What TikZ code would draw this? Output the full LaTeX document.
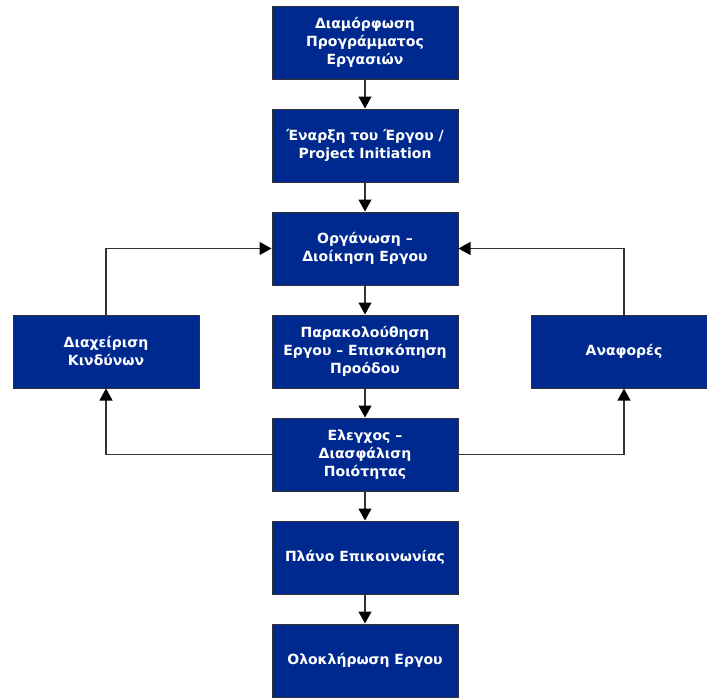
\documentclass[tikz,border=0pt]{standalone}
\usepackage{fontspec}
\setmainfont{DejaVu Sans}
\usetikzlibrary{arrows.meta}
\definecolor{boxblue}{RGB}{0,41,143}
\begin{document}
\begin{tikzpicture}[x=1pt,y=-1pt,
  box/.style={draw=black!80, line width=1pt, fill=boxblue, text=white,
    font=\fontsize{14}{18}\selectfont\bfseries, align=center,
    minimum width=186pt, minimum height=73pt, inner sep=0pt},
  conn/.style={draw=black!80, line width=1.2pt,
    -{Triangle[length=12pt,width=13pt,fill=black,color=black]}}]
\useasboundingbox (0,0) rectangle (707,697);
\clip (0,0) rectangle (707,697);
\node[box] (b1) at (365,42.5) {Διαμόρφωση\\Προγράμματος\\Εργασιών};
\node[box] (b2) at (365,145.5) {Έναρξη του Έργου /\\Project Initiation};
\node[box] (b3) at (365,248.5) {Οργάνωση –\\Διοίκηση Εργου};
\node[box] (b4) at (365,351.5) {Παρακολούθηση\\Εργου – Επισκόπηση\\Προόδου};
\node[box] (b5) at (365,454.5) {Ελεγχος –\\Διασφάλιση\\Ποιότητας};
\node[box] (b6) at (365,557.5) {Πλάνο Επικοινωνίας};
\node[box] (b7) at (365,660.5) {Ολοκλήρωση Εργου};
\node[box] (lft) at (106,351.5) {Διαχείριση\\Κινδύνων};
\node[box] (rgt) at (624,351.5) {Αναφορές};
\draw[conn] (b1.south) -- (b2.north);
\draw[conn] (b2.south) -- (b3.north);
\draw[conn] (b3.south) -- (b4.north);
\draw[conn] (b4.south) -- (b5.north);
\draw[conn] (b5.south) -- (b6.north);
\draw[conn] (b6.south) -- (b7.north);
\draw[conn] (lft.north) |- (b3.west);
\draw[conn] (rgt.north) |- (b3.east);
\draw[conn] (b5.west) -| (lft.south);
\draw[conn] (b5.east) -| (rgt.south);
\end{tikzpicture}
\end{document}
